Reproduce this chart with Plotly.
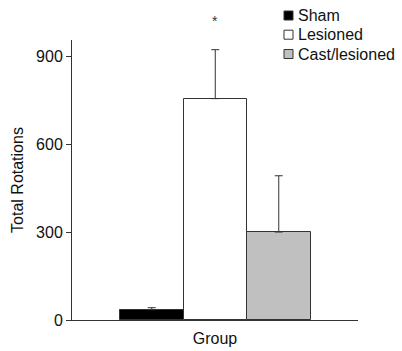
import plotly.graph_objects as go

groups = ["Sham", "Lesioned", "Cast/lesioned"]
means = [35, 755, 300]
errors = [7, 167, 192]
colors = ["#000000", "#ffffff", "#c0c0c0"]
yticks = [0, 300, 600, 900]

W, H = 402, 351
L, R, T, B = 72, 44, 40, 31
PW, PH = W - L - R, H - T - B

def px(x):
    return (x - L) / PW

def py(y):
    return (H - B - y) / PH

fig = go.Figure()
for i, (g, m, e, c) in enumerate(zip(groups, means, errors, colors)):
    fig.add_trace(go.Bar(
        x=[i], y=[m], name=g, width=1, showlegend=False,
        marker=dict(color=c, line=dict(color="#333333", width=1)),
        error_y=dict(type="data", array=[e], arrayminus=[0], symmetric=False,
                     color="#333333", thickness=1, width=4),
    ))

fig.add_annotation(x=1, y=py(11), xref="x", yref="paper", text="*", showarrow=False,
                   font=dict(size=14, color="#333333"))

# manual legend
leg_ys = [15.5, 34.7, 54]
for g, c, yc in zip(groups, colors, leg_ys):
    fig.add_shape(type="rect", xref="paper", yref="paper",
                  x0=px(284), x1=px(293), y0=py(yc + 4.5), y1=py(yc - 4.5),
                  fillcolor=c, line=dict(color="#333333", width=1))
    fig.add_annotation(x=px(296), y=py(yc), xref="paper", yref="paper",
                       text=g, showarrow=False, xanchor="left", yanchor="middle",
                       font=dict(size=16, color="#111111"))

font = "Arial, Liberation Sans, sans-serif"
fig.update_layout(
    width=W, height=H,
    margin=dict(l=L, r=R, t=T, b=B),
    paper_bgcolor="white", plot_bgcolor="white",
    font=dict(family=font, size=16, color="#111111"),
    showlegend=False,
    bargap=0,
    xaxis=dict(range=[-1.256, 3.248], showticklabels=False, ticks="", automargin=False,
               showline=True, linecolor="#333333", linewidth=1, showgrid=False,
               zeroline=False, title=dict(text="Group", standoff=12, font=dict(size=16))),
    yaxis=dict(range=[0, 955], tickvals=yticks, ticks="outside", ticklen=5, automargin=False,
               tickcolor="#333333", showline=True, linecolor="#333333", linewidth=1,
               showgrid=False, zeroline=False, tickfont=dict(size=16),
               title=dict(text="Total Rotations", standoff=8, font=dict(size=16))),
)

fig.write_html("out.html")
